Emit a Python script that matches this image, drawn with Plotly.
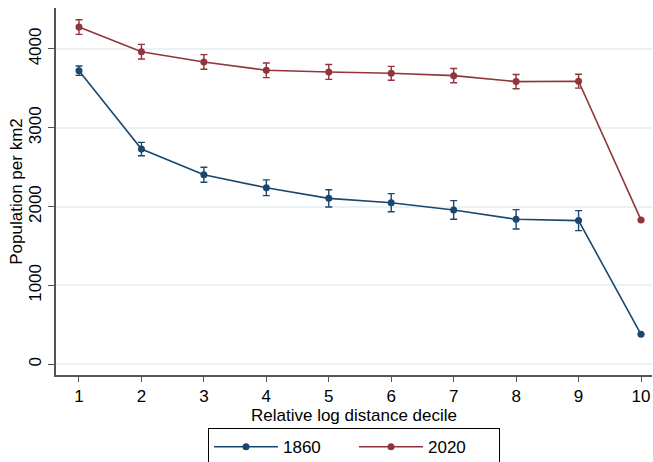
import plotly.graph_objects as go

deciles = [1, 2, 3, 4, 5, 6, 7, 8, 9, 10]
pop_1860 = [3725, 2730, 2405, 2240, 2105, 2050, 1958, 1839, 1823, 380]
err_1860 = [60, 85, 95, 100, 110, 115, 118, 123, 127, 0]
pop_2020 = [4278, 3966, 3835, 3730, 3709, 3692, 3662, 3586, 3591, 1832]
err_2020 = [93, 93, 93, 93, 95, 88, 90, 90, 88, 0]
series_names = ["1860", "2020"]
y_ticks = [0, 1000, 2000, 3000, 4000]

NAVY = "#1a476f"
MAROON = "#90353b"
FONT = "Liberation Sans, Arial, sans-serif"
FS = 17

fig = go.Figure()
for name, vals, errs, col in [(series_names[0], pop_1860, err_1860, NAVY),
                              (series_names[1], pop_2020, err_2020, MAROON)]:
    fig.add_trace(go.Scatter(
        x=deciles, y=vals, name=name, mode="lines+markers",
        line=dict(color=col, width=1.6),
        marker=dict(color=col, size=7),
        error_y=dict(type="data", array=errs, visible=True, color=col,
                     thickness=1.4, width=3.5),
    ))

fig.update_layout(
    width=653, height=462,
    margin=dict(l=56, r=1, t=8, b=87, autoexpand=False),
    paper_bgcolor="white", plot_bgcolor="white",
    font=dict(family=FONT, size=FS, color="black"),
    showlegend=True,
    legend=dict(
        orientation="h", x=0.5, xanchor="center", y=-0.145, yanchor="top",
        bordercolor="black", borderwidth=1, bgcolor="white",
        font=dict(family=FONT, size=FS, color="black"),
        itemwidth=64, entrywidth=66, traceorder="normal",
    ),
    xaxis=dict(
        range=[0.632, 10.176], tickmode="array", tickvals=deciles,
        ticktext=[str(d) for d in deciles], automargin=False,
        showgrid=False, zeroline=False, showline=True,
        linecolor="#555555", linewidth=1.5,
        ticks="outside", ticklen=5, tickcolor="#555555", tickwidth=1.3,
        title=dict(text="Relative log distance decile", standoff=0,
                   font=dict(size=FS)),
        tickfont=dict(size=FS),
    ),
    yaxis=dict(
        range=[-136, 4520], tickmode="array", tickvals=y_ticks,
        ticktext=[str(v) for v in y_ticks], automargin=False,
        showgrid=True, gridcolor="#eaf2f3", gridwidth=1.5,
        zeroline=False, showline=True,
        linecolor="#555555", linewidth=1.5,
        ticks="outside", ticklen=6, tickcolor="#555555", tickwidth=1.3,
        tickangle=-90,
        title=dict(text="Population per km2", standoff=0, font=dict(size=FS)),
        tickfont=dict(size=FS),
    ),
)

fig.write_html("out.html", config={"displayModeBar": False},
               post_script="document.body.style.margin='0';document.body.style.overflow='hidden';")
